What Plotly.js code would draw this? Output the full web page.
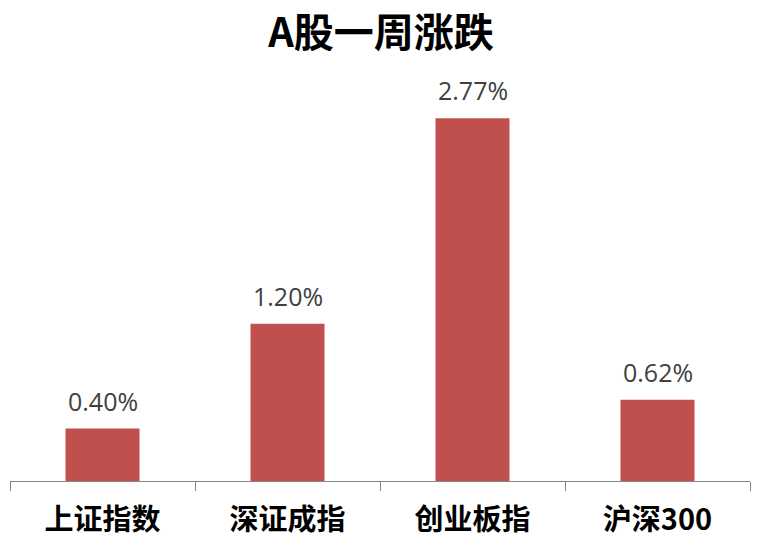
<!DOCTYPE html>
<html>
<head>
<meta charset="utf-8">
<script src="https://cdn.plot.ly/plotly-3.0.1.min.js"></script>
<style>html,body{margin:0;padding:0;background:#fff}#chart{width:762px;height:548px}</style>
</head>
<body>
<div id="chart"></div>
<script>
const categories = ["上证指数", "深证成指", "创业板指", "沪深300"];
const values = [0.40, 1.20, 2.77, 0.62];
const valueLabels = ["0.40%", "1.20%", "2.77%", "0.62%"];

const trace = {
  type: "bar",
  x: categories,
  y: values,
  marker: {color: "#C0504D"},
  hoverinfo: "skip"
};

const annotations = categories.map((c, i) => ({
  x: c, y: values[i], xref: "x", yref: "y",
  text: valueLabels[i], showarrow: false,
  yanchor: "bottom", yshift: 9,
  font: {family: "Open Sans, Liberation Sans, sans-serif", size: 25, color: "#404040"}
}));

const layout = {
  width: 762, height: 548,
  margin: {l: 10, r: 12, t: 60, b: 67},
  paper_bgcolor: "#fff", plot_bgcolor: "#fff",
  title: {
    text: "<b>A股一周涨跌</b>",
    x: 0.5, xanchor: "center", y: 0.9398, yanchor: "middle",
    font: {family: "Noto Sans CJK SC, sans-serif", size: 40, color: "#000"}
  },
  bargap: 0.6,
  showlegend: false,
  xaxis: {
    showline: true, linecolor: "#868686", linewidth: 1,
    ticks: "outside", tickson: "boundaries", ticklen: 9, tickcolor: "#868686",
    ticklabelstandoff: 13,
    tickfont: {family: "Noto Sans CJK SC, sans-serif", size: 29, color: "#000", weight: "bold"},
    showgrid: false, zeroline: false, fixedrange: true
  },
  yaxis: {
    range: [0, 3.214], visible: false, showgrid: false, zeroline: false
  },
  annotations: annotations
};

Plotly.newPlot("chart", [trace], layout, {displayModeBar: false, staticPlot: true});
</script>
</body>
</html>
